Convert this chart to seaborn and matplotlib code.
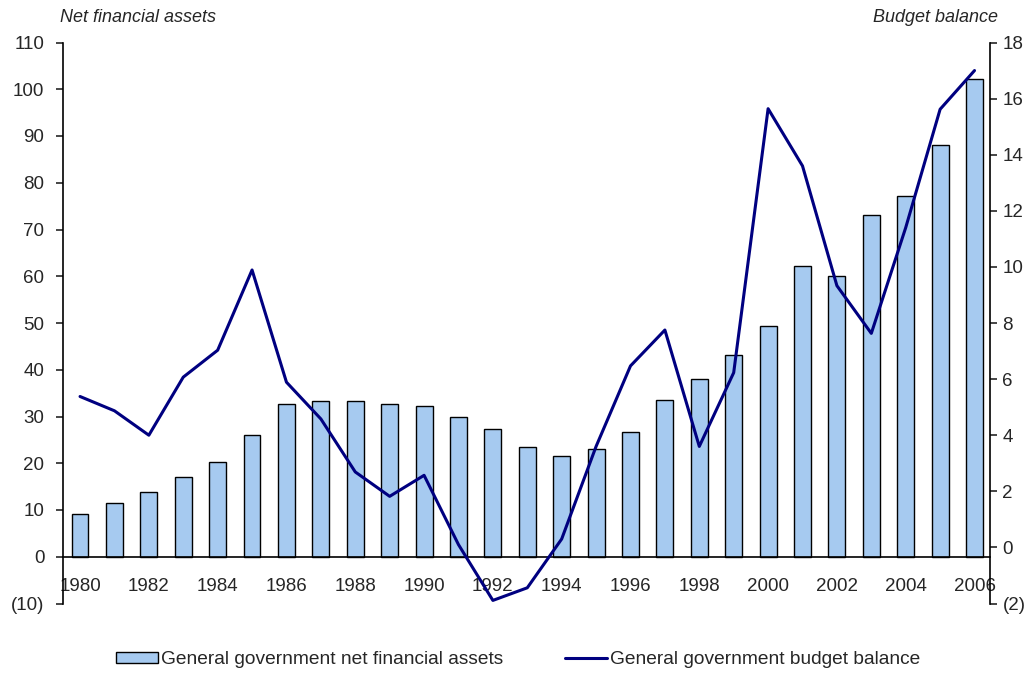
import numpy as np
import pandas as pd
import matplotlib
matplotlib.use("Agg")
import matplotlib.pyplot as plt
from matplotlib.ticker import FuncFormatter
from matplotlib.patches import Patch
from matplotlib.lines import Line2D
import seaborn as sns

# ── Data ──────────────────────────────────────────────────────────────────────
years = list(range(1980, 2007))
net_assets = [9.1, 11.4, 13.9, 17.1, 20.2, 26.0, 32.7, 33.3, 33.3, 32.7,
              32.3, 29.8, 27.3, 23.5, 21.6, 23.1, 26.6, 33.6, 38.0, 43.2,
              49.3, 62.2, 60.1, 73.1, 77.2, 88.0, 102.1]
budget_balance = [5.38, 4.87, 4.0, 6.07, 7.03, 9.89, 5.89, 4.58, 2.69, 1.82,
                  2.57, 0.1, -1.89, -1.44, 0.3, 3.6, 6.47, 7.75, 3.6, 6.23,
                  15.64, 13.6, 9.33, 7.63, 11.4, 15.62, 17.0]
left_ticks = list(range(-10, 111, 10))
right_ticks = list(range(-2, 19, 2))

BAR_COLOR = "#A6CAF0"
LINE_COLOR = "#000080"

sns.set_style("white")
plt.rcParams["font.family"] = ["Liberation Sans", "DejaVu Sans"]

df = pd.DataFrame({"year": years, "assets": net_assets})
idx = np.arange(len(years))


def paren_fmt(v, _pos):
    v = int(round(v))
    return f"({abs(v)})" if v < 0 else f"{v}"


fig = plt.figure(figsize=(10.30, 6.73), dpi=100)
ax = fig.add_axes([62.5 / 1030, 1 - 603.5 / 673, (990 - 62.5) / 1030, (603.5 - 42.5) / 673])

# ── Bars: net financial assets ───────────────────────────────────────────────
sns.barplot(data=df, x="year", y="assets", ax=ax, color=BAR_COLOR,
            saturation=1, edgecolor="black", linewidth=1.0, width=0.49)
ax.set_xlabel("")
ax.set_ylabel("")
ax.set_ylim(-10, 110)
ax.set_yticks(left_ticks)
ax.yaxis.set_major_formatter(FuncFormatter(paren_fmt))
ax.set_xlim(-0.51, len(years) - 1 + 0.45)
ax.set_xticks(idx[::2])
ax.set_xticklabels([str(y) for y in years[::2]])

ax.spines["top"].set_visible(False)
ax.spines["right"].set_visible(False)
ax.spines["bottom"].set_position(("data", 0))
ax.spines["bottom"].set_linewidth(1.2)
ax.spines["left"].set_linewidth(1.2)
ax.spines["left"].set_color("black")
ax.spines["bottom"].set_color("black")
ax.tick_params(axis="x", length=0, pad=15, labelsize=13.5)
ax.tick_params(axis="y", direction="out", length=5, width=1.2, labelsize=13.5,
               left=True, pad=8)

# ── Line: budget balance on right axis ───────────────────────────────────────
ax2 = ax.twinx()
sns.lineplot(x=idx, y=budget_balance, ax=ax2, color=LINE_COLOR, linewidth=2.2)
ax2.set_ylim(-2, 18)
ax2.set_yticks(right_ticks)
ax2.yaxis.set_major_formatter(FuncFormatter(paren_fmt))
ax2.set_ylabel("")
for s in ["top", "left", "bottom"]:
    ax2.spines[s].set_visible(False)
ax2.spines["right"].set_linewidth(1.2)
ax2.spines["right"].set_color("black")
ax2.tick_params(axis="y", direction="out", length=5, width=1.2, labelsize=13.5,
                right=True, pad=4)

fig.text(60 / 1030, 1 - 18 / 673, "Net financial assets", style="italic",
         fontsize=13, ha="left", va="center")
fig.text(998 / 1030, 1 - 18 / 673, "Budget balance", style="italic",
         fontsize=13, ha="right", va="center")

handles = [Patch(facecolor=BAR_COLOR, edgecolor="black", linewidth=1.0),
           Line2D([0], [0], color=LINE_COLOR, linewidth=2.2)]
labels = ["General government net financial assets",
          "General government budget balance"]
fig.legend(handles, labels, loc="center", bbox_to_anchor=(0.503, 1 - 660 / 673),
           ncol=2, frameon=False, fontsize=13.8, columnspacing=3.2,
           handlelength=2.2, handletextpad=0.15, handleheight=0.55)

fig.savefig("out.png", dpi=100)
